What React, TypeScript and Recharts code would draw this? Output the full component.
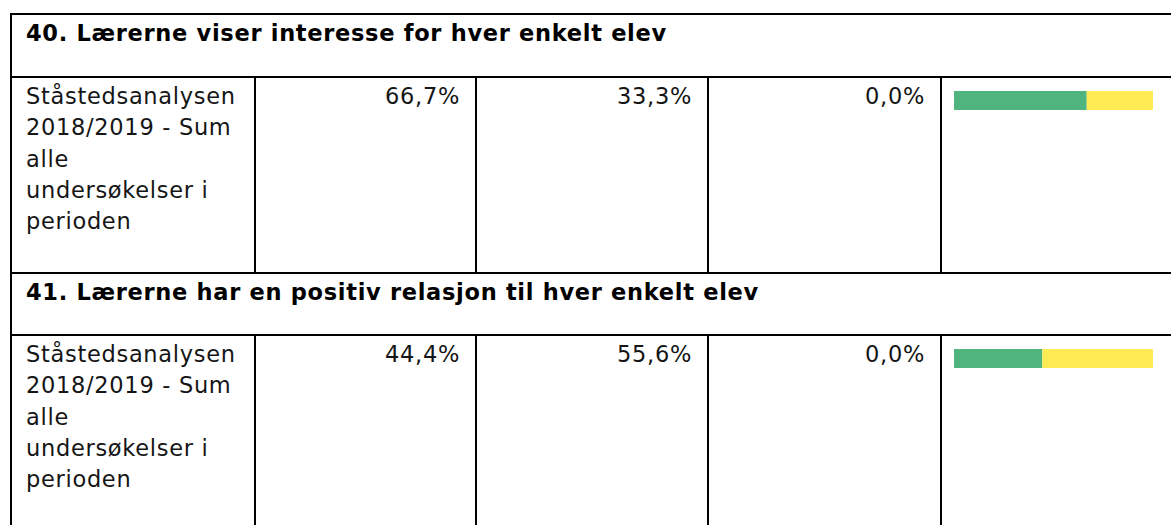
import React from "react";
import { BarChart, Bar, XAxis, YAxis } from "recharts";

const questions = [
  "40. Lærerne viser interesse for hver enkelt elev",
  "41. Lærerne har en positiv relasjon til hver enkelt elev",
];
const groupLines = ["Ståstedsanalysen", "2018/2019 - Sum", "alle", "undersøkelser i", "perioden"];
const agreeValues = [66.7, 44.4];
const partlyValues = [33.3, 55.6];
const disagreeValues = [0.0, 0.0];
const valueLabels = [
  ["66,7%", "33,3%", "0,0%"],
  ["44,4%", "55,6%", "0,0%"],
];

const GREEN = "#4fb47e";
const YELLOW = "#ffec55";
const RED = "#e0533f";

const FONT = "'DejaVu Sans', Verdana, sans-serif";
const FS = 22.5;
const LS = 0.7;
const LH = 31.3;

const colX = [10, 254, 475, 707, 940];
const headerTops = [13, 272];
const rowTops = [76, 334];
const rowBottoms = [272, 540];

function HLine({ y }: { y: number }) {
  return <div style={{ position: "absolute", left: 10, top: y, width: 1200, height: 2, background: "#000" }} />;
}
function VLine({ x, y1, y2 }: { x: number; y1: number; y2: number }) {
  return <div style={{ position: "absolute", left: x, top: y1, width: 2, height: y2 - y1 + 2, background: "#000" }} />;
}

function MiniBar({ i }: { i: number }) {
  const data = [{ name: "r", agree: agreeValues[i], partly: partlyValues[i], disagree: disagreeValues[i] }];
  return (
    <BarChart width={199} height={19} data={data} layout="vertical" margin={{ top: 0, right: 0, bottom: 0, left: 0 }} barCategoryGap={0}>
      <XAxis type="number" domain={[0, 100]} hide />
      <YAxis type="category" dataKey="name" hide width={0} />
      <Bar dataKey="agree" stackId="s" fill={GREEN} isAnimationActive={false} />
      <Bar dataKey="partly" stackId="s" fill={YELLOW} isAnimationActive={false} />
      <Bar dataKey="disagree" stackId="s" fill={RED} isAnimationActive={false} />
    </BarChart>
  );
}

export default function App() {
  return (
    <div style={{ position: "fixed", left: 0, top: 0, width: 1171, height: 525, overflow: "hidden", background: "#fff", fontFamily: FONT }}>
      {questions.map((q, i) => (
        <React.Fragment key={q}>
          <HLine y={headerTops[i]} />
          <HLine y={rowTops[i]} />
          <VLine x={colX[0]} y1={headerTops[i]} y2={rowTops[i]} />
          <div style={{ position: "absolute", left: 26, top: headerTops[i] + 5, fontSize: FS, fontWeight: "bold", color: "#000", letterSpacing: LS, lineHeight: LH + "px", whiteSpace: "nowrap" }}>{q}</div>
          {colX.map((x) => (
            <VLine key={x} x={x} y1={rowTops[i]} y2={rowBottoms[i]} />
          ))}
          <div style={{ position: "absolute", left: 26, top: rowTops[i] + 5, fontSize: FS, color: "#151515", letterSpacing: LS, lineHeight: LH + "px", whiteSpace: "nowrap" }}>
            {groupLines.map((l) => (
              <div key={l}>{l}</div>
            ))}
          </div>
          {valueLabels[i].map((v, j) => (
            <div key={j} style={{ position: "absolute", left: colX[j + 1], width: colX[j + 2] - colX[j + 1] - 15, top: rowTops[i] + 5, textAlign: "right", fontSize: FS, color: "#151515", letterSpacing: LS, lineHeight: LH + "px" }}>
              {v}
            </div>
          ))}
          <div style={{ position: "absolute", left: 954, top: rowTops[i] + 15, width: 199, height: 19, filter: "blur(0.6px)" }}>
            <MiniBar i={i} />
          </div>
        </React.Fragment>
      ))}
    </div>
  );
}
